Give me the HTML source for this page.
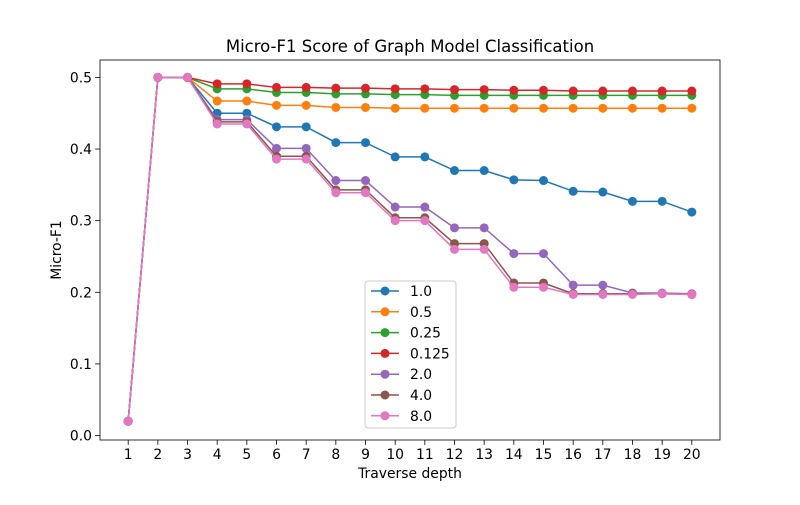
<!DOCTYPE html>
<html><head><meta charset="utf-8">
<style>
body{margin:0;background:#fff;}
svg{font-family:"DejaVu Sans","Liberation Sans",sans-serif;}
</style></head>
<body>
<svg id="chart" width="800" height="500" xmlns="http://www.w3.org/2000/svg"></svg>
<script>
const depths=[1,2,3,4,5,6,7,8,9,10,11,12,13,14,15,16,17,18,19,20];
const seriesNames=["1.0","0.5","0.25","0.125","2.0","4.0","8.0"];
const seriesColors=["#1f77b4","#ff7f0e","#2ca02c","#d62728","#9467bd","#8c564b","#e377c2"];
const s10=[0.02,0.5,0.5,0.45,0.45,0.431,0.431,0.409,0.409,0.389,0.389,0.37,0.37,0.357,0.356,0.341,0.34,0.327,0.327,0.312];
const s05=[0.02,0.5,0.5,0.467,0.467,0.461,0.461,0.458,0.458,0.457,0.457,0.457,0.457,0.457,0.457,0.457,0.457,0.457,0.457,0.457];
const s025=[0.02,0.5,0.5,0.484,0.484,0.479,0.479,0.477,0.477,0.476,0.476,0.475,0.475,0.475,0.475,0.475,0.475,0.475,0.475,0.475];
const s0125=[0.02,0.5,0.5,0.491,0.491,0.486,0.486,0.485,0.485,0.484,0.484,0.483,0.483,0.482,0.482,0.481,0.481,0.481,0.481,0.481];
const s20=[0.02,0.5,0.5,0.441,0.441,0.401,0.401,0.356,0.356,0.319,0.319,0.29,0.29,0.254,0.254,0.21,0.21,0.199,0.199,0.198];
const s40=[0.02,0.5,0.5,0.438,0.438,0.39,0.39,0.343,0.343,0.304,0.304,0.268,0.268,0.213,0.213,0.198,0.198,0.198,0.198,0.197];
const s80=[0.02,0.5,0.5,0.435,0.435,0.386,0.386,0.339,0.339,0.3,0.3,0.26,0.26,0.207,0.207,0.197,0.197,0.197,0.198,0.197];
const yTicks=[0.0,0.1,0.2,0.3,0.4,0.5];
const allSeries=[s10,s05,s025,s0125,s20,s40,s80];

const NS="http://www.w3.org/2000/svg";
const svg=document.getElementById('chart');
const L=100,R=720,T=60,B=440;
const xMin=depths[0],xMax=depths[depths.length-1];
const xPad=(xMax-xMin)*0.05;
function xs(v){return L+(v-(xMin-xPad))/((xMax+xPad)-(xMin-xPad))*(R-L);}
const yLo=-0.0062,yHi=0.5243;
function ys(v){return B-(v-yLo)/(yHi-yLo)*(B-T);}
function mk(tag,attrs,parent){const e=document.createElementNS(NS,tag);for(const k in attrs)e.setAttribute(k,attrs[k]);(parent||svg).appendChild(e);return e;}

const title=mk('text',{x:410,y:52,'text-anchor':'middle','font-size':16.5,fill:'#000'});


title.textContent='Micro-F1 Score of Graph Model Classification';

depths.forEach(d=>{
  const g=mk('g',{});
  
  
  const x=xs(d);
  mk('line',{x1:x,x2:x,y1:B,y2:B+4.9,stroke:'#000','stroke-width':0.8},g);
  const t=mk('text',{x:x,y:B+19,'text-anchor':'middle','font-size':13.9,fill:'#000'},g);
  t.textContent=d;
});
yTicks.forEach(v=>{
  const g=mk('g',{});
  
  
  const y=ys(v);
  mk('line',{x1:L-4.9,x2:L,y1:y,y2:y,stroke:'#000','stroke-width':0.8},g);
  const t=mk('text',{x:L-8,y:y+5,'text-anchor':'end','font-size':13.9,fill:'#000'},g);
  t.textContent=v.toFixed(1);
});
const xl=mk('text',{x:410,y:478,'text-anchor':'middle','font-size':13.9,fill:'#000'});


xl.textContent='Traverse depth';
const yl=mk('text',{x:0,y:0,'text-anchor':'middle','font-size':13.9,fill:'#000',transform:'translate(61,250) rotate(-90)'});


yl.textContent='Micro-F1';

allSeries.forEach((s,i)=>{
  const g=mk('g',{});
  
  
  const pts=s.map((v,j)=>xs(depths[j])+','+ys(v)).join(' ');
  mk('polyline',{points:pts,fill:'none',stroke:seriesColors[i],'stroke-width':1.5},g);
  s.forEach((v,j)=>{
    const c=mk('circle',{cx:xs(depths[j]),cy:ys(v),r:4.5,fill:seriesColors[i]},g);
    
    
  });
});

const frame=mk('rect',{x:L,y:T,width:R-L,height:B-T,fill:'none',stroke:'#000','stroke-width':0.8});



const lg=mk('g',{});


mk('rect',{x:365,y:281,width:91,height:147,rx:3,fill:'#fff','fill-opacity':0.8,stroke:'#ccc','stroke-width':1},lg);
seriesNames.forEach((n,i)=>{
  const e=mk('g',{},lg);
  
  
  const y=291+i*20.8;
  mk('line',{x1:371,x2:399,y1:y,y2:y,stroke:seriesColors[i],'stroke-width':1.5},e);
  mk('circle',{cx:385,cy:y,r:4.5,fill:seriesColors[i]},e);
  const t=mk('text',{x:410,y:y+5,'font-size':13.9,fill:'#000'},e);
  t.textContent=n;
});
</script>
</body></html>
